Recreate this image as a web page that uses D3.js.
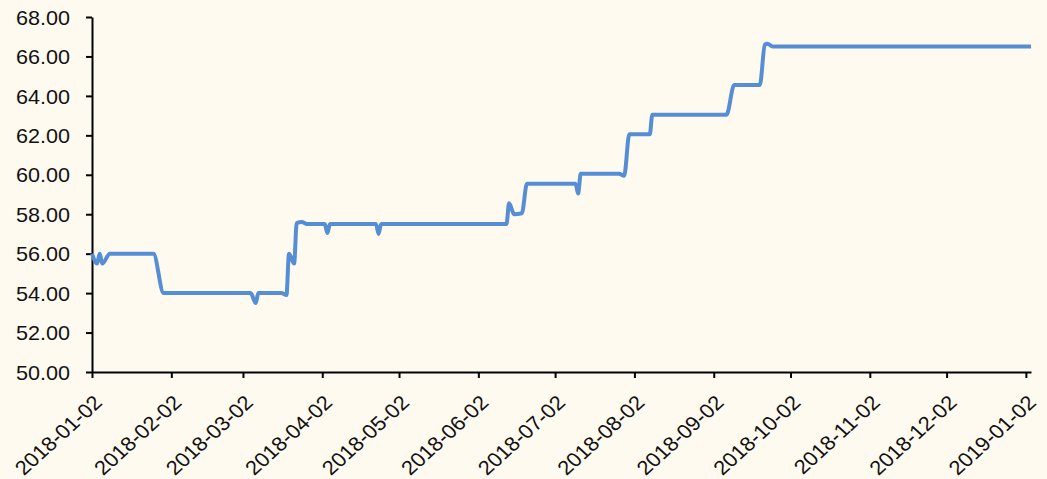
<!DOCTYPE html>
<html>
<head>
<meta charset="utf-8">
<script src="https://cdn.jsdelivr.net/npm/d3@7"></script>
<style>
  body { margin: 0; background: #FFFAF0; }
  svg { display: block; }
</style>
</head>
<body>
<div id="chart"></div>
<script>
const width = 1047;
const height = 479;

// point dates and values
const dates = [
  "2018-01-02", "2018-01-04", "2018-01-05", "2018-01-06", "2018-01-09",
  "2018-01-26", "2018-01-30", "2018-03-05", "2018-03-07", "2018-03-08",
  "2018-03-17", "2018-03-19", "2018-03-20", "2018-03-22", "2018-03-23",
  "2018-03-25", "2018-03-27", "2018-04-03", "2018-04-04", "2018-04-05",
  "2018-04-23", "2018-04-24", "2018-04-25", "2018-06-13", "2018-06-14",
  "2018-06-16", "2018-06-19", "2018-06-21", "2018-07-10", "2018-07-11",
  "2018-07-12", "2018-07-27", "2018-07-29", "2018-07-31", "2018-08-08",
  "2018-08-09", "2018-09-07", "2018-09-10", "2018-09-20", "2018-09-22",
  "2018-09-23", "2018-09-25", "2019-01-04"
];
const values = [
  56.0, 55.5, 56.0, 55.5, 56.0,
  56.0, 54.0, 54.0, 53.5, 54.0,
  54.0, 53.9, 56.0, 55.5, 57.55,
  57.6, 57.5, 57.5, 57.05, 57.5,
  57.5, 57.0, 57.5, 57.5, 58.55,
  58.0, 58.05, 59.55, 59.55, 59.05,
  60.05, 60.05, 59.95, 62.05, 62.05,
  63.05, 63.05, 64.55, 64.55, 66.6,
  66.65, 66.5, 66.5
];
const xTickLabels = [
  "2018-01-02", "2018-02-02", "2018-03-02", "2018-04-02", "2018-05-02",
  "2018-06-02", "2018-07-02", "2018-08-02", "2018-09-02", "2018-10-02",
  "2018-11-02", "2018-12-02", "2019-01-02"
];
const yTicks = [50, 52, 54, 56, 58, 60, 62, 64, 66, 68];

const parse = d3.utcParse("%Y-%m-%d");
const data = dates.map((d, i) => ({ date: parse(d), value: values[i] }));

const svg = d3.select("#chart")
  .append("svg")
  .attr("width", width)
  .attr("height", height);

svg.append("rect")
  .attr("width", width)
  .attr("height", height)
  .attr("fill", "#FFFAF0");

const x = d3.scaleUtc()
  .domain([parse("2018-01-02"), parse("2019-01-04")])
  .range([92, 1031]);

const y = d3.scaleLinear()
  .domain([50, 68])
  .range([372, 17]);

const font = "'Liberation Sans', Arial, sans-serif";

// y axis
const yAxis = svg.append("g")
  .attr("transform", "translate(92,0)")
  .call(d3.axisLeft(y).tickValues(yTicks).tickFormat(d3.format(".2f")).tickSize(6).tickSizeOuter(0));

yAxis.select(".domain").attr("stroke", "#000").attr("stroke-width", 2);
yAxis.selectAll(".tick line").attr("stroke", "#000").attr("stroke-width", 2);
yAxis.selectAll(".tick text")
  .attr("x", 0)
  .attr("dy", "0.36em")
  .attr("transform", "translate(-22,0) scale(1.08,1)")
  .style("font-family", font)
  .style("font-size", "20px")
  .attr("fill", "#111");

// x axis
const xAxis = svg.append("g")
  .attr("transform", "translate(0,372)")
  .call(d3.axisBottom(x)
    .tickValues(xTickLabels.map(parse))
    .tickFormat(d3.utcFormat("%Y-%m-%d"))
    .tickSize(6)
    .tickSizeOuter(0));

xAxis.select(".domain").attr("stroke", "#000").attr("stroke-width", 2);
xAxis.selectAll(".tick line").attr("stroke", "#000").attr("stroke-width", 2);
xAxis.selectAll(".tick text")
  .attr("y", 0)
  .attr("dy", 0)
  .attr("text-anchor", "end")
  .attr("transform", "translate(11,32) scale(1.1,1) rotate(-45)")
  .style("font-family", font)
  .style("font-size", "20px")
  .attr("fill", "#111");

// price line
const line = d3.line()
  .x(d => x(d.date))
  .y(d => y(d.value))
  .curve(d3.curveMonotoneX);

svg.append("path")
  .datum(data)
  .attr("fill", "none")
  .attr("stroke", "#558ED5")
  .attr("stroke-width", 4)
  .attr("stroke-linejoin", "round")
  .attr("d", line);
</script>
</body>
</html>
